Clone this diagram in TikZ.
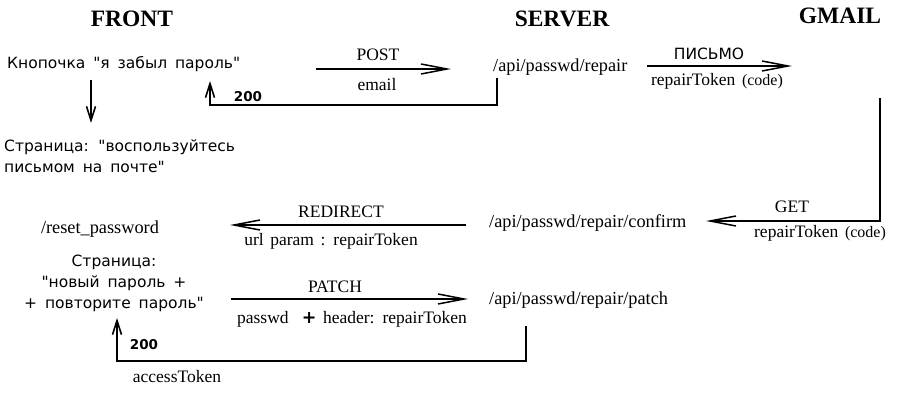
\documentclass[tikz,border=0pt]{standalone}
\usepackage{fontspec}
\setmainfont{Liberation Serif}[WordSpace={1.5}]
\newfontfamily\ru{DejaVu Sans}[WordSpace={1.6}]
\usetikzlibrary{arrows.meta}
\tikzset{
  hdr/.style={font=\fontsize{23.5}{26}\selectfont\bfseries, inner sep=0pt},
  srv/.style={font=\fontsize{18.3}{20}\selectfont, inner sep=0pt},
  lbl/.style={font=\fontsize{17.5}{19}\selectfont, inner sep=0pt},
  rutxt/.style={font=\ru\fontsize{15.5}{21}\selectfont, inner sep=0pt},
  rusm/.style={font=\ru\fontsize{13.5}{15}\selectfont\bfseries, inner sep=0pt},
  conn/.style={line width=1.8pt, -{Straight Barb[length=26pt,width=10pt,line width=1.5pt]}},
  vconn/.style={line width=1.8pt, -{Straight Barb[length=14pt,width=9pt,line width=1.6pt]}}
}
\begin{document}
\begin{tikzpicture}[x=1pt,y=-1pt]
\useasboundingbox (0,0) rectangle (919,404);
% headers
\node[hdr] (hf) at (132,19) {FRONT};
\node[hdr] (hs) at (562,19) {SERVER};
\node[hdr] (hg) at (840,16) {GMAIL};
% front nodes
\node[rutxt, anchor=west] (btn) at (7,64) {Кнопочка "я забыл пароль"};
\node[rutxt, anchor=north west, align=left] (pg1) at (4,140) {Страница: "воспользуйтесь\\письмом на почте"};
\node[srv] (reset) at (100,229) {/reset\_password};
\node[rutxt, align=center, anchor=north] (pg2) at (114,255) {Страница:\\"новый пароль +\\+ повторите пароль"};
% server nodes
\node[srv, anchor=west] (rep) at (493,67) {/api/passwd/repair};
\node[srv, anchor=west] (conf) at (489,223) {/api/passwd/repair/confirm};
\node[srv, anchor=west] (patch) at (489,300) {/api/passwd/repair/patch};
% gmail
\coordinate (gm) at (880,98);
% coordinates
\coordinate (p1s) at (316,69); \coordinate (p1e) at (451,69);
\coordinate (r1s) at (497,78); \coordinate (r1e) at (210,81);
\coordinate (m1s) at (647,66); \coordinate (m1e) at (792,66);
\coordinate (d1s) at (91,80); \coordinate (d1e) at (91,123);
\coordinate (g1e) at (706,221);
\coordinate (rd1s) at (466,225); \coordinate (rd1e) at (230,225);
\coordinate (pt1s) at (231,299); \coordinate (pt1e) at (468,299);
\coordinate (r2s) at (526,326); \coordinate (r2e) at (117,318);
% connectors
\draw[conn] (p1s) -- (p1e);
\node[lbl] (lpost) at (378,55) {POST};
\node[lbl] (lemail) at (377,85) {email};
\draw[vconn] (r1s) |- (210,105) -- (r1e);
\node[rusm] (l200a) at (248,97) {200};
\draw[conn] (m1s) -- (m1e);
\node[rutxt] (lmail) at (709,54) {ПИСЬМО};
\node[lbl] (ltok1) at (717,81) {repairToken\ {\fontsize{16}{17}\selectfont(code)}};
\draw[vconn] (d1s) -- (d1e);
\draw[conn] (gm) |- (g1e);
\node[lbl] (lget) at (792,207) {GET};
\node[lbl] (ltok2) at (820,233) {repairToken\ {\fontsize{16}{17}\selectfont(code)}};
\draw[conn] (rd1s) -- (rd1e);
\node[lbl] (lred) at (341,212) {REDIRECT};
\node[lbl] (lurl) at (331,241) {url param : repairToken};
\draw[conn] (pt1s) -- (pt1e);
\node[lbl] (lpatch) at (335,287) {PATCH};
\node[lbl] (lpw) at (352,319) {passwd\ \ {\ru\bfseries +} header: repairToken};
\draw[vconn] (r2s) |- (117,361) -- (r2e);
\node[rusm] (l200b) at (144,345) {200};
\node[lbl] (lacc) at (177,377) {accessToken};
\end{tikzpicture}
\end{document}
